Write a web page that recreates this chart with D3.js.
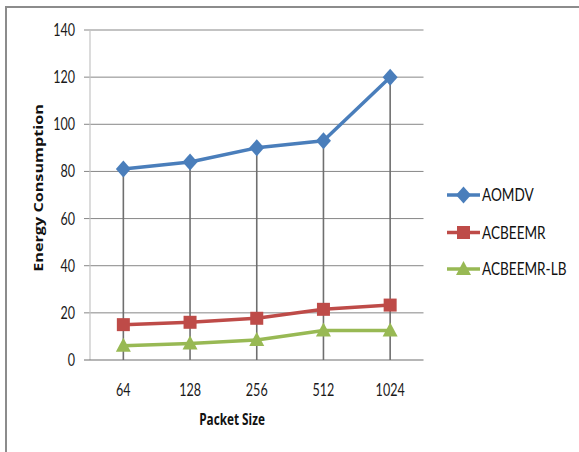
<!DOCTYPE html>
<html>
<head>
<meta charset="utf-8">
<script src="https://cdn.jsdelivr.net/npm/d3@7"></script>
<style>
  html, body { margin: 0; padding: 0; background: #fff; }
  svg { display: block; }
  .tick-label { font-family: Lato, "Open Sans", sans-serif; font-size: 16.5px; fill: #1a1a1a; }
  .axis-title { font-family: "Open Sans", "DejaVu Sans", sans-serif; font-weight: 700; font-size: 15.5px; fill: #111; }
  .axis-title.y-title { font-size: 16.2px; }
  .legend-label { font-family: Lato, "Open Sans", sans-serif; font-size: 17px; fill: #111; }
</style>
</head>
<body>
<script>
// Packet sizes on the x axis
const packetSizes = ["64", "128", "256", "512", "1024"];
// Energy consumption per protocol
const aomdv = [81, 84, 90, 93, 120];
const acbeemr = [15, 16, 17.7, 21.5, 23.3];
const acbeemrLb = [6, 7, 8.5, 12.5, 12.5];
const yTicks = [0, 20, 40, 60, 80, 100, 120, 140];

const series = [
  { name: "AOMDV", values: aomdv, color: "#4A7EBB", marker: "diamond" },
  { name: "ACBEEMR", values: acbeemr, color: "#BE4B48", marker: "square" },
  { name: "ACBEEMR-LB", values: acbeemrLb, color: "#98B954", marker: "triangle" }
];

const W = 579, H = 452;
const NARROW = 0.76; // horizontal squeeze applied to the chart's lettering
const svg = d3.select("body").append("svg").attr("width", W).attr("height", H);

// Outer frame
svg.append("rect").attr("x", 6).attr("y", 7).attr("width", W + 10).attr("height", H + 10)
  .attr("fill", "none").attr("stroke", "#8c8c8c").attr("stroke-width", 2);

const x = d3.scaleBand().domain(packetSizes).range([90, 423.5]);
const y = d3.scaleLinear().domain([0, 140]).range([360, 30]);
const cx = d => x(d) + x.bandwidth() / 2;

// Horizontal gridlines with short ticks
svg.append("g").selectAll("line").data(yTicks.filter(t => t > 0)).join("line")
  .attr("x1", 84).attr("x2", 423.5)
  .attr("y1", d => y(d)).attr("y2", d => y(d))
  .attr("stroke", "#878787").attr("stroke-width", 1);

// Value axis line
svg.append("line").attr("x1", 90).attr("x2", 90).attr("y1", y(140)).attr("y2", y(0))
  .attr("stroke", "#c4c4c4").attr("stroke-width", 1.2);

// Category axis line
svg.append("line").attr("x1", 84).attr("x2", 423.5).attr("y1", y(0)).attr("y2", y(0))
  .attr("stroke", "#6e6e6e").attr("stroke-width", 1.2);

// Y tick labels
svg.append("g").selectAll("text").data(yTicks).join("text")
  .attr("class", "tick-label")
  .attr("transform", d => `translate(75,${y(d) + 6}) scale(${NARROW},1)`)
  .attr("text-anchor", "end").text(d => d);

// X tick labels
svg.append("g").selectAll("text").data(packetSizes).join("text")
  .attr("class", "tick-label")
  .attr("transform", d => `translate(${cx(d)},396) scale(${NARROW},1)`)
  .attr("text-anchor", "middle").text(d => d);

// Drop lines from the highest point down to the axis
const maxByCat = packetSizes.map((c, i) => ({ c, v: d3.max(series, s => s.values[i]) }));
svg.append("g").selectAll("line").data(maxByCat).join("line")
  .attr("x1", d => cx(d.c)).attr("x2", d => cx(d.c))
  .attr("y1", d => y(d.v)).attr("y2", y(0))
  .attr("stroke", "#6f6f6f").attr("stroke-width", 1.6);

function drawMarker(g, type, px, py, color) {
  if (type === "diamond") {
    g.append("path").attr("d", `M${px},${py - 8.5}L${px + 7.5},${py}L${px},${py + 8.5}L${px - 7.5},${py}Z`)
      .attr("fill", color);
  } else if (type === "square") {
    g.append("rect").attr("x", px - 6.5).attr("y", py - 6.5).attr("width", 13).attr("height", 13)
      .attr("fill", color);
  } else {
    g.append("path").attr("d", `M${px},${py - 8}L${px + 7.5},${py + 6}L${px - 7.5},${py + 6}Z`)
      .attr("fill", color);
  }
}

const line = d3.line().x((d, i) => cx(packetSizes[i])).y(d => y(d));
series.forEach(s => {
  const g = svg.append("g");
  g.append("path").datum(s.values).attr("d", line)
    .attr("fill", "none").attr("stroke", s.color).attr("stroke-width", 3.5)
    .attr("stroke-linejoin", "round");
  s.values.forEach((v, i) => drawMarker(g, s.marker, cx(packetSizes[i]), y(v), s.color));
});

// Axis titles
svg.append("text").attr("class", "axis-title y-title")
  .attr("transform", `translate(43,188) rotate(-90) scale(1,${NARROW + 0.04})`)
  .attr("text-anchor", "middle").text("Energy Consumption");
svg.append("text").attr("class", "axis-title")
  .attr("transform", `translate(232,425) scale(${NARROW},1)`)
  .attr("text-anchor", "middle").text("Packet Size");

// Legend
const legendY = [195, 232.5, 269];
series.forEach((s, i) => {
  const g = svg.append("g");
  const ly = legendY[i];
  g.append("line").attr("x1", 447).attr("x2", 480).attr("y1", ly).attr("y2", ly)
    .attr("stroke", s.color).attr("stroke-width", 3.5);
  drawMarker(g, s.marker, 463.5, ly, s.color);
  g.append("text").attr("class", "legend-label")
    .attr("transform", `translate(482,${ly + 6}) scale(${NARROW + 0.04},1)`)
    .text(s.name);
});
</script>
</body>
</html>
